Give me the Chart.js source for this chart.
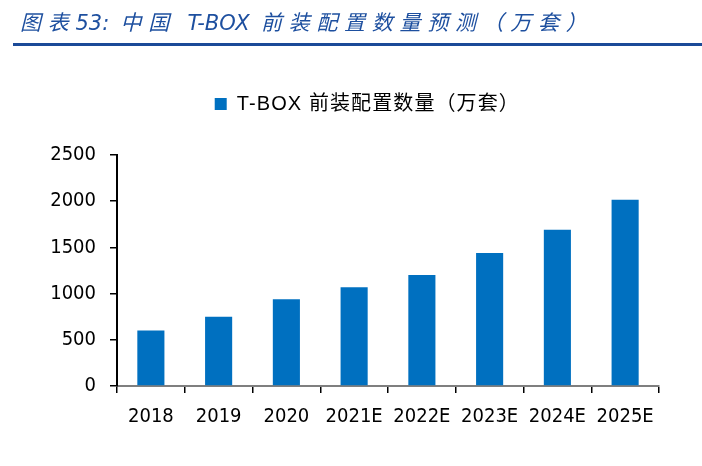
<!DOCTYPE html>
<html>
<head>
<meta charset="utf-8">
<script src="https://cdn.jsdelivr.net/npm/chart.js@4"></script>
<style>
  html, body { margin: 0; padding: 0; background: #fff; }
  #wrap { position: relative; width: 702px; height: 466px; overflow: hidden; }
  #hdr { position: absolute; left: 20px; top: 6px; font-family: "Noto Sans CJK SC", sans-serif; font-style: italic;
         font-size: 21px; letter-spacing: 6.7px; color: #1d4f9f; white-space: nowrap; line-height: 30px; }
  #hdr .lat { font-family: "DejaVu Sans", sans-serif; letter-spacing: 0; }
  #rule { position: absolute; left: 13px; right: 0; top: 43px; height: 2.5px; background: #1b4a98; }
  #c { position: absolute; left: 0; top: 0; }
</style>
</head>
<body>
<div id="wrap">
  <canvas id="c" width="702" height="466"></canvas>
  <div id="hdr">图表<span class="lat">53:</span> 中国 <span class="lat">T-BOX</span> 前装配置数量预测（万套）</div>
  <div id="rule"></div>
</div>
<script>
const categories = ["2018", "2019", "2020", "2021E", "2022E", "2023E", "2024E", "2025E"];
const seriesName = "T-BOX 前装配置数量（万套）";
const values = [600, 750, 940, 1070, 1200, 1440, 1690, 2015];
const yTicks = [0, 500, 1000, 1500, 2000, 2500];

const legendShift = {
  id: 'legendShift',
  afterLayout(chart) {
    const lg = chart.legend;
    const dx = 29, dy = -31;
    lg.left += dx; lg.right += dx;
    lg.top += dy; lg.bottom += dy;
    if (!lg._wrapped) {
      const orig = lg.draw;
      lg.draw = function () {
        const ctx = this.ctx;
        ctx.save();
        ctx.letterSpacing = '1.1px';
        orig.apply(this, arguments);
        ctx.restore();
      };
      lg._wrapped = true;
    }
  }
};

const tickFont = { family: "'DejaVu Sans Condensed', 'Liberation Sans', sans-serif", size: 20 };

new Chart(document.getElementById('c'), {
  type: 'bar',
  data: {
    labels: categories,
    datasets: [{
      label: seriesName,
      data: values,
      backgroundColor: '#0070c0',
      borderWidth: 0,
      barPercentage: 0.4,
      categoryPercentage: 1.0
    }]
  },
  options: {
    responsive: false,
    animation: false,
    devicePixelRatio: 1,
    layout: { padding: { top: 95, right: 43, left: 0, bottom: 0 } },
    plugins: {
      legend: {
        position: 'top',
        labels: {
          boxWidth: 12, boxHeight: 12, padding: 30,
          color: '#000',
          font: { family: "'Liberation Sans', 'Noto Sans CJK SC', sans-serif", size: 20 }
        }
      },
      tooltip: { enabled: false },
      title: { display: false }
    },
    scales: {
      x: {
        afterFit(s) { s.height = 80; },
        grid: { display: true, drawOnChartArea: false, drawTicks: true, tickLength: 7, color: '#000', lineWidth: 1.5, offset: true },
        border: { display: true, color: '#7f7f7f', width: 2 },
        ticks: { color: '#000', font: tickFont, padding: 12, maxRotation: 0 }
      },
      y: {
        min: 0, max: 2500,
        afterFit(s) { s.width = 117; },
        afterBuildTicks(s) { s.ticks = yTicks.map(v => ({ value: v })); },
        grid: { display: true, drawOnChartArea: false, drawTicks: true, tickLength: 7, color: '#000', lineWidth: 1.5 },
        border: { display: true, color: '#000', width: 2 },
        ticks: { color: '#000', font: tickFont, padding: 14, callback: v => String(v) }
      }
    }
  },
  plugins: [legendShift]
});
</script>
</body>
</html>
